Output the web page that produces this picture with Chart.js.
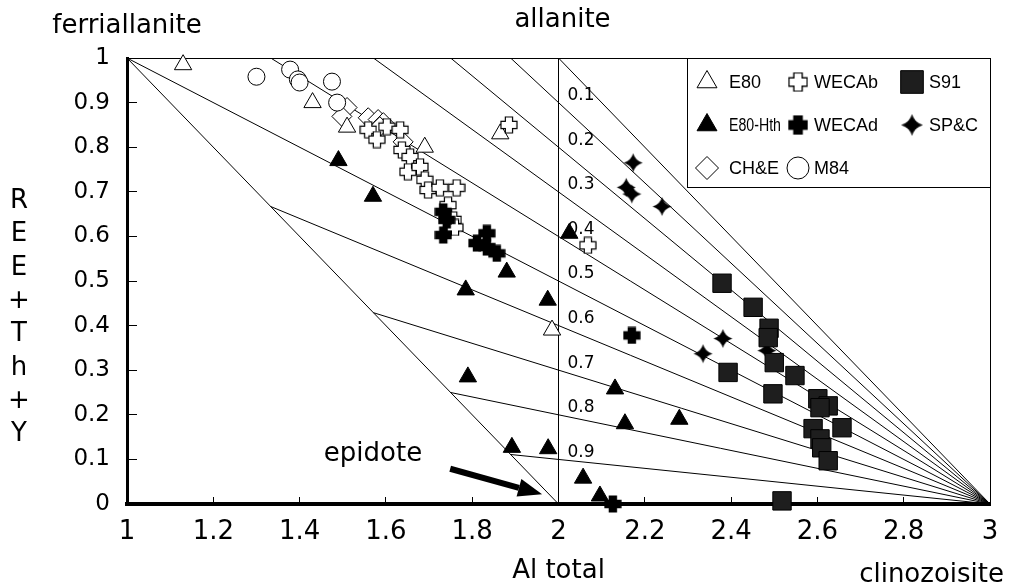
<!DOCTYPE html>
<html>
<head>
<meta charset="utf-8">
<script src="https://cdn.jsdelivr.net/npm/chart.js@4/dist/chart.umd.min.js"></script>
<style>
  body { margin: 0; background: #fff; }
  #wrap { width: 1010px; height: 587px; }
</style>
</head>
<body>
<div id="wrap"><canvas id="chart" width="1010" height="587"></canvas></div>
<script>
// axis ticks
const xTicks = [1, 1.2, 1.4, 1.6, 1.8, 2, 2.2, 2.4, 2.6, 2.8, 3]
const xTickLabels = ['1', '1.2', '1.4', '1.6', '1.8', '2', '2.2', '2.4', '2.6', '2.8', '3']
const yTicks = [0, 0.1, 0.2, 0.3, 0.4, 0.5, 0.6, 0.7, 0.8, 0.9, 1]
const yTickLabels = ['0', '0.1', '0.2', '0.3', '0.4', '0.5', '0.6', '0.7', '0.8', '0.9', '1']

// analyses [Al total, REE+Th+Y]
const e80 = [[1.13, 0.985], [1.43, 0.9], [1.51, 0.845], [1.69, 0.8], [1.865, 0.83], [1.985, 0.39]]
const e80Hth = [[1.49, 0.77], [1.57, 0.69], [2.025, 0.607], [1.88, 0.52], [1.785, 0.48], [1.975, 0.457],
  [1.79, 0.285], [1.892, 0.127], [1.976, 0.124], [2.057, 0.058], [2.096, 0.018], [2.131, 0.258],
  [2.154, 0.18], [2.28, 0.19]]
const chE = [[1.51, 0.889], [1.498, 0.869], [1.559, 0.866], [1.582, 0.862], [1.594, 0.855], [1.586, 0.846], [1.64, 0.812]]
const m84 = [[1.3, 0.958], [1.378, 0.974], [1.396, 0.952], [1.4, 0.945], [1.475, 0.947], [1.487, 0.9]]
const wecab = [[1.559, 0.839], [1.579, 0.817], [1.602, 0.846], [1.633, 0.839], [1.637, 0.794], [1.656, 0.778],
  [1.651, 0.745], [1.679, 0.756], [1.69, 0.727], [1.698, 0.704], [1.725, 0.709], [1.764, 0.709],
  [1.744, 0.67], [1.756, 0.637], [1.76, 0.62], [1.885, 0.85], [2.068, 0.58]]
const wecad = [[1.733, 0.655], [1.741, 0.637], [1.733, 0.603], [1.811, 0.585], [1.834, 0.607], [1.834, 0.576],
  [1.857, 0.562], [2.17, 0.378], [2.126, 0]]
const s91 = [[2.379, 0.495], [2.451, 0.441], [2.488, 0.394], [2.486, 0.373], [2.5, 0.317], [2.393, 0.295],
  [2.548, 0.288], [2.497, 0.247], [2.601, 0.236], [2.625, 0.22], [2.606, 0.216], [2.657, 0.171],
  [2.59, 0.169], [2.606, 0.146], [2.61, 0.126], [2.625, 0.097], [2.518, 0.007]]
const spc = [[2.173, 0.765], [2.157, 0.71], [2.17, 0.695], [2.24, 0.667], [2.381, 0.371], [2.335, 0.337], [2.483, 0.344]]

// iso-lines towards clinozoisite (3, 0)
const isoFrac = [0.1, 0.2, 0.3, 0.4, 0.5, 0.6, 0.7, 0.8, 0.9]
const isoLabels = ['0.1', '0.2', '0.3', '0.4', '0.5', '0.6', '0.7', '0.8', '0.9']
const isoStartX = [1.889, 1.75, 1.571, 1.333, 1, 1.333, 1.571, 1.75, 1.889]
const isoStartY = [1, 1, 1, 1, 1, 0.667, 0.429, 0.25, 0.111]
const clinozoisite = [3, 0]
const boundaries = [[[2, 1], [3, 0]], [[1, 1], [2, 0]], [[2, 0], [2, 1]]]
const epidoteArrow = [[1.749, 0.079], [1.962, 0.022]]

const legendOrder = ['E80', 'WECAb', 'S91', 'E80-Hth', 'WECAd', 'SP&C', 'CH&E', 'M84']

function makeCross(size, fill) {
  const c = document.createElement('canvas')
  c.width = size
  c.height = size
  const g = c.getContext('2d')
  const m = size / 2, e = size / 2 - 1, a = size * 0.2
  g.beginPath()
  g.moveTo(m - a, m - e); g.lineTo(m + a, m - e); g.lineTo(m + a, m - a); g.lineTo(m + e, m - a)
  g.lineTo(m + e, m + a); g.lineTo(m + a, m + a); g.lineTo(m + a, m + e); g.lineTo(m - a, m + e)
  g.lineTo(m - a, m + a); g.lineTo(m - e, m + a); g.lineTo(m - e, m - a); g.lineTo(m - a, m - a)
  g.closePath()
  g.fillStyle = fill
  g.fill()
  g.lineWidth = 1.2
  g.strokeStyle = '#000'
  g.stroke()
  return c
}

function makeStar(size) {
  const c = document.createElement('canvas')
  c.width = size
  c.height = size
  const g = c.getContext('2d')
  const m = size / 2, e = size / 2 - 1, k = e * 0.22
  g.beginPath()
  g.moveTo(m, m - e)
  g.quadraticCurveTo(m + k, m - k, m + e, m)
  g.quadraticCurveTo(m + k, m + k, m, m + e)
  g.quadraticCurveTo(m - k, m + k, m - e, m)
  g.quadraticCurveTo(m - k, m - k, m, m - e)
  g.closePath()
  g.fillStyle = '#000'
  g.fill()
  return c
}

const crossOpen = makeCross(18, '#fff')
const crossFull = makeCross(18, '#000')
const star = makeStar(21)

function series(label, pts, style) {
  return Object.assign({
    type: 'scatter',
    label: label,
    data: pts.map(p => ({ x: p[0], y: p[1] })),
    borderColor: '#000',
    borderWidth: 1,
    clip: false
  }, style)
}

function segment(a, b) {
  return {
    type: 'line',
    label: '',
    data: [{ x: a[0], y: a[1] }, { x: b[0], y: b[1] }],
    borderColor: '#000',
    borderWidth: 1,
    pointRadius: 0,
    showLine: true,
    fill: false,
    order: 20
  }
}

const datasets = [
  series('E80', e80, { pointStyle: 'triangle', pointRadius: 10, backgroundColor: '#fff', order: 7 }),
  series('E80-Hth', e80Hth, { pointStyle: 'triangle', pointRadius: 10, backgroundColor: '#000', order: 4 }),
  series('CH&E', chE, { pointStyle: 'rectRot', pointRadius: 10, backgroundColor: '#fff', order: 9 }),
  series('M84', m84, { pointStyle: 'circle', pointRadius: 8.5, backgroundColor: '#fff', order: 8 }),
  series('WECAb', wecab, { pointStyle: crossOpen, pointRadius: 9, backgroundColor: '#fff', order: 6 }),
  series('WECAd', wecad, { pointStyle: crossFull, pointRadius: 9, backgroundColor: '#000', order: 5 }),
  series('S91', s91, { pointStyle: 'rect', pointRadius: 13, backgroundColor: '#1e1e1e', order: 2 }),
  series('SP&C', spc, { pointStyle: star, pointRadius: 10, backgroundColor: '#000', order: 3 })
]
isoFrac.forEach((f, i) => datasets.push(segment([isoStartX[i], isoStartY[i]], clinozoisite)))
boundaries.forEach(b => datasets.push(segment(b[0], b[1])))

const font = 'DejaVu Sans'

const decorations = {
  id: 'decorations',
  beforeDatasetsDraw(chart) {
    const { ctx, chartArea: a, scales: { x, y } } = chart
    ctx.save()
    ctx.strokeStyle = '#000'
    ctx.lineWidth = 1
    ctx.strokeRect(a.left + 0.5, a.top + 0.5, a.right - a.left, a.bottom - a.top)
    ctx.fillStyle = '#000'
    ctx.font = '17px "' + font + '"'
    ctx.textAlign = 'left'
    ctx.textBaseline = 'middle'
    isoFrac.forEach((f, i) => {
      ctx.fillText(isoLabels[i], x.getPixelForValue(2) + 9, y.getPixelForValue(1 - f) - 7)
    })
    ctx.restore()
  },
  afterDatasetsDraw(chart) {
    const { ctx, chartArea: a, scales: { x, y } } = chart
    ctx.save()
    ctx.fillStyle = '#000'
    ctx.strokeStyle = '#000'

    // epidote arrow
    const x0 = x.getPixelForValue(epidoteArrow[0][0]), y0 = y.getPixelForValue(epidoteArrow[0][1])
    const x1 = x.getPixelForValue(epidoteArrow[1][0]), y1 = y.getPixelForValue(epidoteArrow[1][1])
    const ang = Math.atan2(y1 - y0, x1 - x0)
    const hl = 24, hw = 9
    const bx = x1 - Math.cos(ang) * hl, by = y1 - Math.sin(ang) * hl
    ctx.lineWidth = 6
    ctx.beginPath()
    ctx.moveTo(x0, y0)
    ctx.lineTo(bx, by)
    ctx.stroke()
    ctx.beginPath()
    ctx.moveTo(x1, y1)
    ctx.lineTo(bx + Math.sin(ang) * hw, by - Math.cos(ang) * hw)
    ctx.lineTo(bx - Math.sin(ang) * hw, by + Math.cos(ang) * hw)
    ctx.closePath()
    ctx.fill()

    // annotations
    ctx.textBaseline = 'alphabetic'
    ctx.font = '26px "' + font + '"'
    ctx.textAlign = 'center'
    ctx.fillText('ferriallanite', x.getPixelForValue(1), 33)
    ctx.fillText('allanite', x.getPixelForValue(2) + 4, 27)
    ctx.textAlign = 'right'
    ctx.fillText('clinozoisite', 1004, 582)
    ctx.textAlign = 'center'
    ctx.fillText('epidote', 373, 461)
    const yTitle = ['R', 'E', 'E', '+', 'T', 'h', '+', 'Y']
    yTitle.forEach((ch, i) => ctx.fillText(ch, 19, 208 + i * 33.3))

    // legend
    ctx.lineWidth = 1
    const lx = 687
    ctx.strokeRect(lx + 0.5, a.top + 0.5, a.right - lx, 129)
    const colSym = [707, 798, 912]
    const colText = [729, 814, 929]
    const colMax = [52, 72, 50]
    const rows = [82, 125, 168]
    ctx.font = '18px "Liberation Sans"'
    ctx.textAlign = 'left'
    ctx.textBaseline = 'middle'
    legendOrder.forEach((name, i) => {
      const ds = chart.data.datasets.find(d => d.label === name)
      const cx = colSym[i % 3], cy = rows[Math.floor(i / 3)]
      if (ds.pointStyle instanceof HTMLCanvasElement) {
        const w = ds.pointStyle.width * 1.15, h = ds.pointStyle.height * 1.15
        ctx.drawImage(ds.pointStyle, cx - w / 2, cy - h / 2, w, h)
      } else {
        ctx.fillStyle = ds.backgroundColor
        ctx.strokeStyle = '#000'
        ctx.lineWidth = 1
        const r = ds.pointStyle === 'rect' ? 16 : ds.pointStyle === 'circle' ? 11 : 11.5
        Chart.helpers.drawPoint(ctx, { pointStyle: ds.pointStyle, radius: r, borderWidth: 1, rotation: 0 }, cx, cy)
      }
      ctx.fillStyle = '#000'
      ctx.fillText(name, colText[i % 3], cy + 1, colMax[i % 3])
    })
    ctx.restore()
  }
}

new Chart(document.getElementById('chart'), {
  type: 'scatter',
  data: { datasets: datasets },
  options: {
    responsive: false,
    animation: false,
    events: [],
    layout: { padding: { left: 0, right: 20, top: 58, bottom: 0 } },
    plugins: { legend: { display: false }, tooltip: { enabled: false } },
    scales: {
      x: {
        type: 'linear',
        min: 1,
        max: 3,
        afterBuildTicks: s => { s.ticks = xTicks.map(v => ({ value: v })) },
        afterFit: s => { s.height = 83; s.paddingLeft = 0; s.paddingRight = 0 },
        ticks: {
          callback: (v, i) => xTickLabels[i],
          font: { family: font, size: 26 },
          color: '#000',
          padding: 20,
          autoSkip: false,
          maxRotation: 0
        },
        grid: { drawOnChartArea: false, color: '#000', tickLength: -7 },
        border: { color: '#000', width: 4 },
        title: { display: true, text: 'Al total', font: { family: font, size: 26 }, color: '#000', padding: { top: 0, bottom: 0 } }
      },
      y: {
        type: 'linear',
        min: 0,
        max: 1,
        afterBuildTicks: s => { s.ticks = yTicks.map(v => ({ value: v })) },
        afterFit: s => { s.width = 127 },
        ticks: {
          callback: (v, i) => yTickLabels[i],
          font: { family: font, size: 23 },
          color: '#000',
          padding: 27,
          autoSkip: false
        },
        grid: { drawOnChartArea: false, color: '#000', tickLength: -10 },
        border: { color: '#000', width: 3 }
      }
    }
  },
  plugins: [decorations]
})
</script>
</body>
</html>
